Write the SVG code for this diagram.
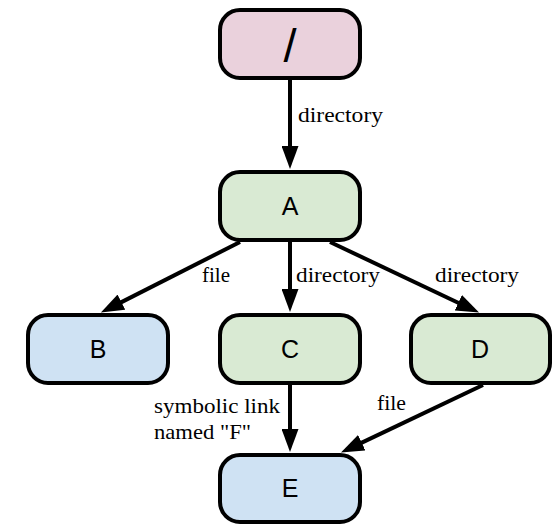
<svg xmlns="http://www.w3.org/2000/svg" width="553" height="525" viewBox="0 0 553 525">
<defs>
<style>
.n rect{stroke:#000;stroke-width:4}
.n text{font-family:"Liberation Sans",Arial,sans-serif;font-size:25px;text-anchor:middle;fill:#000}
.e line{stroke:#000;stroke-width:4;fill:none}
.l{font-family:"Liberation Serif","Times New Roman",serif;font-size:21px;fill:#000}
</style>
<marker id="ah" viewBox="0 0 23 17" refX="1" refY="8.5" markerWidth="23" markerHeight="17" markerUnits="userSpaceOnUse" orient="auto">
<path d="M0,0L23,8.5L0,17z" fill="#000"/>
</marker>
</defs>
<g id="connectors" class="e">
<line x1="290" y1="80" x2="290" y2="147" marker-end="url(#ah)"/>
<line x1="240" y1="242" x2="120.5" y2="302.6" marker-end="url(#ah)"/>
<line x1="290" y1="242" x2="290" y2="290" marker-end="url(#ah)"/>
<line x1="330" y1="242" x2="459.2" y2="303.2" marker-end="url(#ah)"/>
<line x1="290" y1="385" x2="290" y2="430" marker-end="url(#ah)"/>
<line x1="483" y1="385" x2="360.8" y2="443.1" marker-end="url(#ah)"/>
</g>
<g id="labels">
<text class="l" x="298" y="122" textLength="85" lengthAdjust="spacingAndGlyphs">directory</text>
<text class="l" x="202" y="282" textLength="28" lengthAdjust="spacingAndGlyphs">file</text>
<text class="l" x="296" y="282" textLength="84" lengthAdjust="spacingAndGlyphs">directory</text>
<text class="l" x="435" y="282" textLength="84" lengthAdjust="spacingAndGlyphs">directory</text>
<text class="l" x="154" y="413" textLength="126" lengthAdjust="spacingAndGlyphs">symbolic link</text>
<text class="l" x="154" y="439" textLength="97" lengthAdjust="spacingAndGlyphs">named "F"</text>
<text class="l" x="377" y="410" textLength="29" lengthAdjust="spacingAndGlyphs">file</text>
</g>
<g id="root" class="n"><rect x="220" y="10" width="140" height="68" rx="20" fill="#ead1dc"/><text x="290" y="62" style="font-size:47px">/</text></g>
<g id="A" class="n"><rect x="220" y="172" width="140" height="68" rx="20" fill="#d9ead3"/><text x="290" y="215">A</text></g>
<g id="B" class="n"><rect x="28" y="315" width="140" height="68" rx="20" fill="#cfe2f3"/><text x="98" y="358">B</text></g>
<g id="C" class="n"><rect x="220" y="315" width="140" height="68" rx="20" fill="#d9ead3"/><text x="290" y="358">C</text></g>
<g id="D" class="n"><rect x="411" y="315" width="139" height="68" rx="20" fill="#d9ead3"/><text x="480" y="358">D</text></g>
<g id="E" class="n"><rect x="220" y="455" width="140" height="67" rx="20" fill="#cfe2f3"/><text x="290" y="497">E</text></g>
</svg>
